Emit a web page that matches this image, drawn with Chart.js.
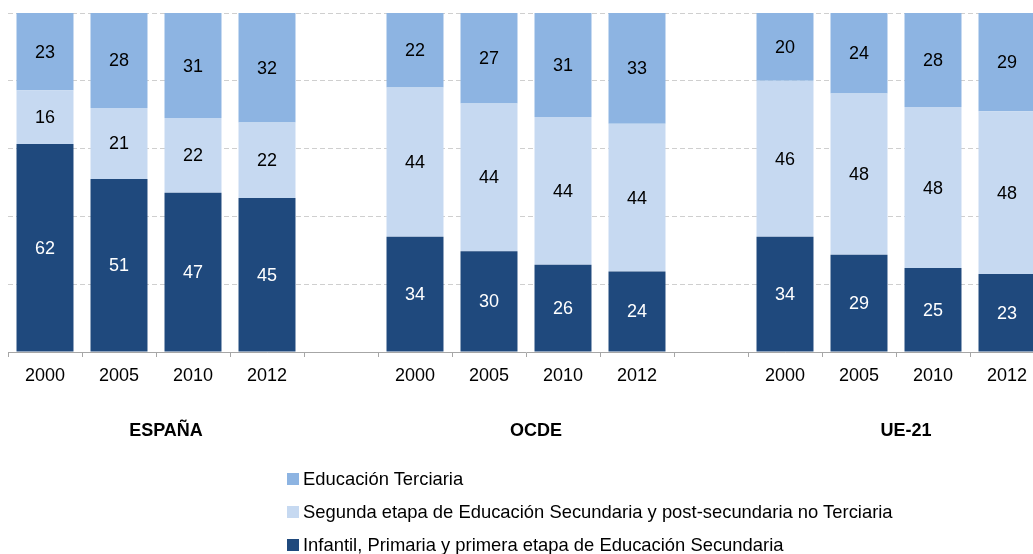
<!DOCTYPE html>
<html lang="es">
<head>
<meta charset="UTF-8">
<title>Nivel educativo de la población adulta</title>
<script src="https://cdn.jsdelivr.net/npm/chart.js"></script>
<style>
    body {
        margin: 0;
        background: #ffffff;
        font-family: 'Liberation Sans', Arial, sans-serif;
        overflow: hidden;
        width: 1033px;
        height: 554px;
        position: relative;
    }
    .chart-box {
        position: absolute;
        left: 0;
        top: 0;
        width: 1044px;
        height: 554px;
    }
    #legend {
        position: absolute;
        left: 287px;
        top: 462px;
        font-size: 18.4px;
        color: #000;
    }
    .legend-row {
        display: flex;
        align-items: center;
        height: 33px;
    }
    .legend-row span.box {
        width: 12px;
        height: 12px;
        margin-right: 4px;
        display: inline-block;
    }
</style>
</head>
<body>
<div class="chart-box"><canvas id="chart"></canvas></div>
<div id="legend"></div>

<script>
// categories (empty slots separate the groups)
const years = ['2000', '2005', '2010', '2012', '', '2000', '2005', '2010', '2012', '', '2000', '2005', '2010', '2012'];
const groupNames = ['ESPAÑA', 'OCDE', 'UE-21'];
const groupSlots = [[0, 3], [5, 8], [10, 13]];

// values as printed on the bars (%)
const infantil = [62, 51, 47, 45, null, 34, 30, 26, 24, null, 34, 29, 25, 23];
const segunda = [16, 21, 22, 22, null, 44, 44, 44, 44, null, 46, 48, 48, 48];
const terciaria = [23, 28, 31, 32, null, 22, 27, 31, 33, null, 20, 24, 28, 29];

const seriesNames = [
    'Infantil, Primaria y primera etapa de Educación Secundaria',
    'Segunda etapa de Educación Secundaria y post-secundaria no Terciaria',
    'Educación Terciaria'
];
const seriesColors = ['#1F497D', '#C6D9F1', '#8DB4E2'];
const labelColors = ['#ffffff', '#000000', '#000000'];

const FONT = "'Liberation Sans', Arial, sans-serif";
const raw = [infantil, segunda, terciaria];

// 100% stacked: each column is scaled to its own total
const totals = years.map((_, i) => raw.reduce((s, arr) => s + (arr[i] || 0), 0));
const pct = arr => arr.map((v, i) => v == null ? null : v / totals[i] * 100);

const barLabels = {
    id: 'barLabels',
    afterDatasetsDraw(chart) {
        const ctx = chart.ctx;
        ctx.save();
        ctx.font = '18px ' + FONT;
        ctx.textAlign = 'center';
        ctx.textBaseline = 'middle';
        chart.data.datasets.forEach((ds, d) => {
            const meta = chart.getDatasetMeta(d);
            meta.data.forEach((bar, i) => {
                const v = raw[d][i];
                if (v == null) return;
                ctx.fillStyle = labelColors[d];
                ctx.fillText(String(v), bar.x, (bar.y + bar.base) / 2 + 1);
            });
        });
        ctx.restore();
    }
};

const groupLabels = {
    id: 'groupLabels',
    afterDraw(chart) {
        const ctx = chart.ctx;
        const x = chart.scales.x;
        ctx.save();
        ctx.font = 'bold 18px ' + FONT;
        ctx.fillStyle = '#000';
        ctx.textAlign = 'center';
        ctx.textBaseline = 'middle';
        groupNames.forEach((name, g) => {
            const a = x.getPixelForValue(groupSlots[g][0]);
            const b = x.getPixelForValue(groupSlots[g][1]);
            ctx.fillText(name, (a + b) / 2 + 10, 431);
        });
        ctx.restore();
    }
};

new Chart(document.getElementById('chart'), {
    type: 'bar',
    data: {
        labels: years,
        datasets: raw.map((arr, d) => ({
            label: seriesNames[d],
            data: pct(arr),
            backgroundColor: seriesColors[d],
            borderWidth: 0,
            categoryPercentage: 0.77,
            barPercentage: 1.0
        }))
    },
    options: {
        responsive: true,
        maintainAspectRatio: false,
        animation: false,
        layout: { padding: { left: 8, top: 13, right: 0, bottom: 0 } },
        plugins: {
            legend: { display: false },
            tooltip: { enabled: false }
        },
        scales: {
            x: {
                stacked: true,
                grid: {
                    offset: true,
                    drawOnChartArea: false,
                    drawTicks: true,
                    tickLength: 5,
                    color: '#A6A6A6'
                },
                border: { display: true, color: '#A6A6A6', width: 1 },
                ticks: {
                    color: '#000',
                    font: { family: FONT, size: 18 },
                    padding: 8,
                    maxRotation: 0,
                    autoSkip: false
                },
                afterFit(scale) { scale.height = 202; }
            },
            y: {
                stacked: true,
                min: 0,
                max: 100,
                ticks: { display: false, stepSize: 20 },
                grid: {
                    drawTicks: false,
                    color: '#CFCFCF',
                    lineWidth: 1
                },
                border: { display: false, dash: [5, 3] },
                afterFit(scale) { scale.width = 0; }
            }
        }
    },
    plugins: [barLabels, groupLabels]
});

// legend, top series first as in the original
const legend = document.getElementById('legend');
[2, 1, 0].forEach(d => {
    const row = document.createElement('div');
    row.className = 'legend-row';
    const box = document.createElement('span');
    box.className = 'box';
    box.style.background = seriesColors[d];
    row.appendChild(box);
    row.appendChild(document.createTextNode(seriesNames[d]));
    legend.appendChild(row);
});
</script>
</body>
</html>
